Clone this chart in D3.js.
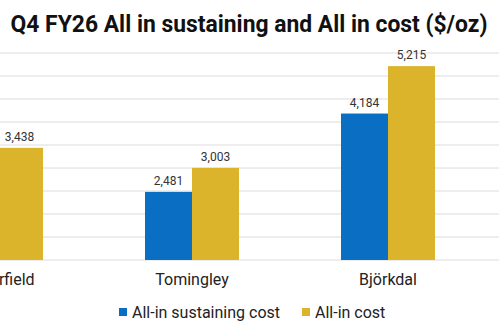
<!DOCTYPE html>
<html><head><meta charset="utf-8">
<script src="https://cdn.jsdelivr.net/npm/d3@7"></script>
<style>body{margin:0;background:#fff}svg{display:block}</style>
</head><body>
<svg id="c" width="499" height="333"></svg>
<script>
const categories = ["Costerfield", "Tomingley", "Björkdal"];
const aisc = [null, 2481, 4184];
const aic = [3438, 3003, 5215];
const yTicks = [1000, 1500, 2000, 2500, 3000, 3500, 4000, 4500, 5000, 5500];
const seriesNames = ["All-in sustaining cost", "All-in cost"];
const colors = ["#0a6fc2", "#dcb42c"];

const svg = d3.select("#c");
const W = 499, H = 333;
const font = "Roboto, 'Noto Sans', sans-serif";

const x = d3.scaleBand().domain(categories).range([-102, 486]);
const x1 = d3.scaleBand().domain([0, 1]).range([x.bandwidth()/2 - 47, x.bandwidth()/2 + 47]);
const y = d3.scaleLinear().domain([1000, 5500]).range([260, 53]);

// gridlines
svg.append("g").selectAll("line").data(yTicks).join("line")
  .attr("x1", 0).attr("x2", W)
  .attr("y1", d => y(d)).attr("y2", d => y(d))
  .attr("stroke", "#dcdcdc").attr("stroke-width", 1);

const rows = categories.map((c, i) => ({c, vals: [aisc[i], aic[i]]}));
const g = svg.append("g").selectAll("g").data(rows).join("g")
  .attr("transform", d => `translate(${x(d.c)},0)`);
const bars = g.selectAll("g").data(d => d.vals.map((v, k) => ({v, k})).filter(e => e.v != null)).join("g");
bars.append("rect")
  .attr("x", d => x1(d.k)).attr("width", x1.bandwidth())
  .attr("y", d => y(d.v)).attr("height", d => y(1000) - y(d.v))
  .attr("fill", d => colors[d.k]);
bars.append("text")
  .attr("x", d => x1(d.k) + x1.bandwidth()/2).attr("y", d => y(d.v) - 7)
  .attr("text-anchor", "middle").attr("font-family", font).attr("font-size", 12)
  .attr("fill", "#333").text(d => d3.format(",")(d.v));

// category labels
svg.append("g").selectAll("text").data(categories).join("text")
  .attr("x", d => x(d) + x.bandwidth()/2).attr("y", 285)
  .attr("text-anchor", "middle").attr("font-family", font).attr("font-size", 16)
  .attr("fill", "#222").text(d => d);

// legend
const lx = [119, 302];
const lg = svg.append("g").selectAll("g").data(seriesNames).join("g")
  .attr("transform", (d, i) => `translate(${lx[i]},308)`);
lg.append("rect").attr("width", 8).attr("height", 8).attr("fill", (d, i) => colors[i]);
lg.append("text").attr("x", 13).attr("y", 9.5).attr("font-family", font).attr("font-size", 16)
  .attr("fill", "#222").text(d => d);

// title (condensed bold)
const tg = svg.append("g");
const t = tg.append("text").attr("x", 0).attr("y", 0).attr("text-anchor", "middle")
  .attr("font-family", font).attr("font-weight", "bold").attr("font-size", 24)
  .attr("fill", "#111").text("Q4 FY26 All in sustaining and All in cost ($/oz)");
const tw = t.node().getComputedTextLength();
tg.attr("transform", `translate(249,32) scale(${477 / tw},1)`);
</script>
</body></html>
